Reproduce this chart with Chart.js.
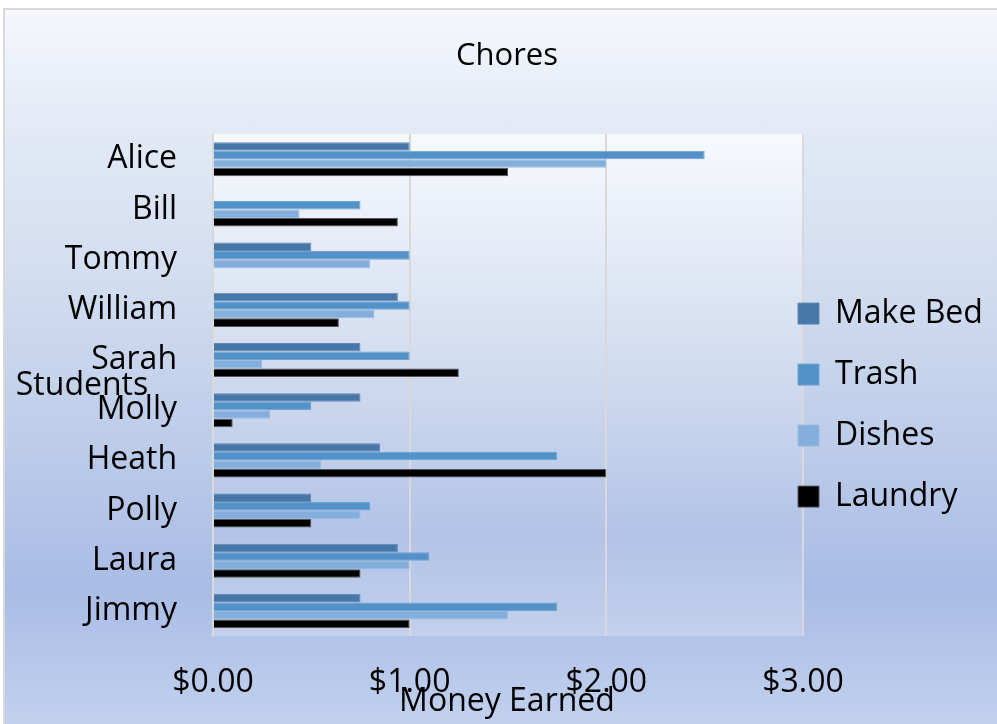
<!DOCTYPE html>
<html>
<head>
<meta charset="utf-8">
<title>Chores</title>
<script src="https://cdn.jsdelivr.net/npm/chart.js@4"></script>
<style>
  html, body { margin: 0; padding: 0; overflow: hidden; background: #fff; }
  #box {
    position: absolute; left: 3px; top: 8px;
    width: 1004px; height: 724px;
    border-left: 2px solid #d9d9d9; border-top: 2px solid #d9d9d9;
    background: linear-gradient(to bottom, #f5f7fc 0%, #e6ecf7 13%, #d2ddf0 37%, #bccce9 60%, #a9bce5 80%, #c3d2ee 100%);
  }
  canvas { display: block; }
</style>
</head>
<body>
<div id="box"><canvas id="chart" width="1004" height="724"></canvas></div>
<script>
// data
const students = ['Alice', 'Bill', 'Tommy', 'William', 'Sarah', 'Molly', 'Heath', 'Polly', 'Laura', 'Jimmy'];
const makeBed = [1.00, 0, 0.50, 0.94, 0.75, 0.75, 0.85, 0.50, 0.94, 0.75];
const trash   = [2.50, 0.75, 1.00, 1.00, 1.00, 0.50, 1.75, 0.80, 1.10, 1.75];
const dishes  = [2.00, 0.44, 0.80, 0.82, 0.25, 0.29, 0.55, 0.75, 1.00, 1.50];
const laundry = [1.50, 0.94, 0, 0.64, 1.25, 0.10, 2.00, 0.50, 0.75, 1.00];
const xTicks = [0, 1, 2, 3];

const FONT = "'Open Sans', 'Noto Sans', sans-serif";

// plot area gradient + axis titles drawn like Excel does (horizontal, overlapping)
const excelLook = {
    id: 'excelLook',
    afterLayout(chart) {
        // legend sits a bit into the plot area and lower than centre
        const lg = chart.legend;
        lg.left -= 34;
        lg.width += 34;
        lg.top += 20; lg.bottom += 20;
    },
    beforeDraw(chart) {
        const { ctx, chartArea: a } = chart;
        const g = ctx.createLinearGradient(0, a.top, 0, a.bottom);
        g.addColorStop(0, '#f7f9fd');
        g.addColorStop(0.45, '#d3ddf0');
        g.addColorStop(0.8, '#b2c3e6');
        g.addColorStop(1, '#c2d0ec');
        ctx.save();
        ctx.fillStyle = g;
        ctx.fillRect(a.left, a.top, a.right - a.left, a.bottom - a.top);
        ctx.restore();
    },
    afterDraw(chart) {
        const ctx = chart.ctx;
        ctx.save();
        ctx.fillStyle = '#000';
        ctx.font = '32px ' + FONT;
        ctx.textAlign = 'center';
        ctx.textBaseline = 'middle';
        ctx.fillText('Students', 77, 376);
        ctx.fillText('Money Earned', 502, 692);
        ctx.restore();
    }
};

const ctx = document.getElementById('chart').getContext('2d');
new Chart(ctx, {
    type: 'bar',
    data: {
        labels: students,
        datasets: [
            { label: 'Make Bed', data: makeBed, backgroundColor: '#4677a7', borderColor: '#5f89b5' },
            { label: 'Trash', data: trash, backgroundColor: '#5391c9', borderColor: '#6ea3d2' },
            { label: 'Dishes', data: dishes, backgroundColor: '#84afdc', borderColor: '#97bbe1' },
            { label: 'Laundry', data: laundry, backgroundColor: '#000000', borderColor: '#555555' }
        ]
    },
    options: {
        indexAxis: 'y',
        responsive: false,
        animation: false,
        datasets: {
            bar: { categoryPercentage: 0.68, barPercentage: 1.0, borderWidth: 1 }
        },
        layout: { padding: 0 },
        plugins: {
            title: {
                display: true,
                text: 'Chores',
                color: '#000',
                font: { family: FONT, size: 31, weight: 'normal' },
                padding: { top: 28, bottom: 59 }
            },
            legend: {
                position: 'right',
                fullSize: false,
                maxWidth: 206,
                labels: {
                    color: '#000',
                    font: { family: FONT, size: 32 },
                    boxWidth: 21,
                    boxHeight: 21,
                    padding: 29
                }
            },
            tooltip: { enabled: false }
        },
        scales: {
            x: {
                min: 0,
                max: 3,
                afterBuildTicks: s => { s.ticks = xTicks.map(v => ({ value: v })); },
                ticks: {
                    color: '#000',
                    font: { family: FONT, size: 32 },
                    padding: 28,
                    callback: v => '$' + Number(v).toFixed(2)
                },
                grid: { color: '#d9d9d9', lineWidth: 2, drawTicks: false },
                border: { display: false },
                afterFit: s => { s.height = 98; }
            },
            y: {
                ticks: {
                    color: '#000',
                    font: { family: FONT, size: 32 },
                    padding: 36
                },
                grid: { display: false, drawTicks: false },
                border: { display: true, color: '#d9d9d9', width: 2 },
                afterFit: s => { s.width = 208; }
            }
        }
    },
    plugins: [excelLook]
});
</script>
</body>
</html>
